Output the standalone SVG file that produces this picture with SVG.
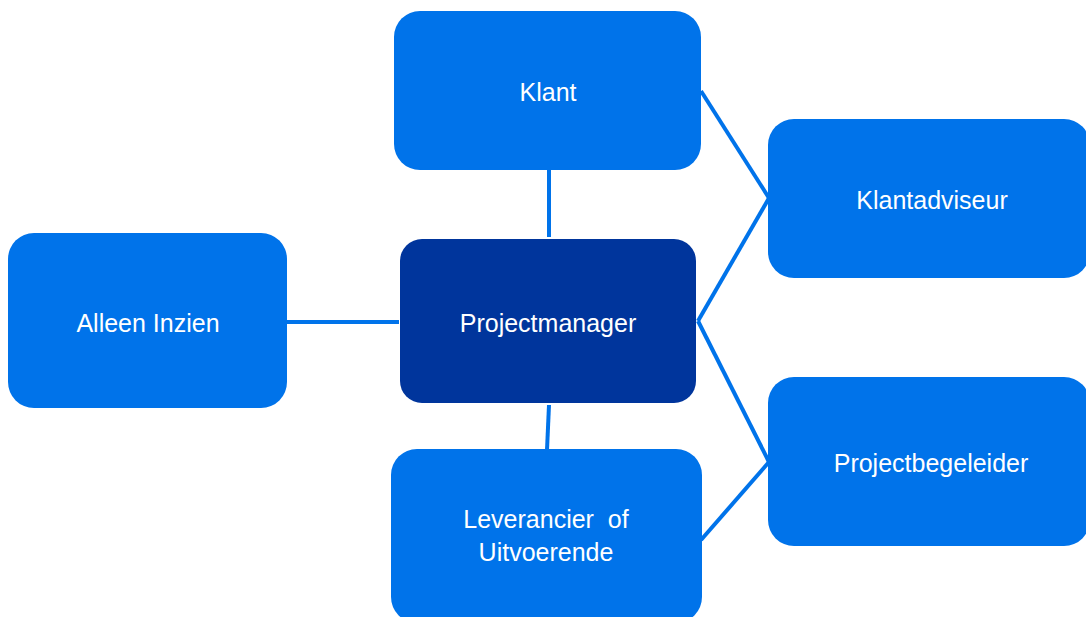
<svg xmlns="http://www.w3.org/2000/svg" width="1086" height="617" viewBox="0 0 1086 617">
<style>
.box{fill:#0073EA;}
.pm{fill:#00359C;}
.lbl{font-family:"Liberation Sans",Arial,sans-serif;font-size:25px;fill:#FFFFFF;text-anchor:middle;white-space:pre;}
.con{stroke:#0073EA;stroke-width:4;fill:none;}
</style>
<rect width="1086" height="617" fill="#FFFFFF"/>
<g id="connectors">
<line class="con" x1="549" y1="170" x2="549" y2="237"/>
<line class="con" x1="287" y1="322" x2="399" y2="322"/>
<line class="con" x1="549" y1="405" x2="547" y2="450"/>
<line class="con" x1="701" y1="91" x2="769" y2="198"/>
<line class="con" x1="698" y1="321" x2="769" y2="198"/>
<line class="con" x1="698" y1="321" x2="769" y2="462"/>
<line class="con" x1="701" y1="540" x2="769" y2="462"/>
</g>
<g id="klant">
<rect class="box" x="394" y="11" width="307" height="159" rx="26"/>
<text class="lbl" x="548" y="101">Klant</text>
</g>
<g id="klantadviseur">
<rect class="box" x="768" y="119" width="322" height="159" rx="26"/>
<text class="lbl" x="932" y="209">Klantadviseur</text>
</g>
<g id="alleen-inzien">
<rect class="box" x="8" y="233" width="279" height="175" rx="26"/>
<text class="lbl" x="148" y="332">Alleen Inzien</text>
</g>
<g id="projectmanager">
<rect class="pm" x="400" y="239" width="296" height="164" rx="22"/>
<text class="lbl" x="548" y="332">Projectmanager</text>
</g>
<g id="projectbegeleider">
<rect class="box" x="768" y="377" width="322" height="169" rx="26"/>
<text class="lbl" x="931" y="472">Projectbegeleider</text>
</g>
<g id="leverancier">
<rect class="box" x="391" y="449" width="311" height="174" rx="26"/>
<text class="lbl" x="546" y="528">Leverancier  of</text>
<text class="lbl" x="546" y="561">Uitvoerende</text>
</g>
</svg>
